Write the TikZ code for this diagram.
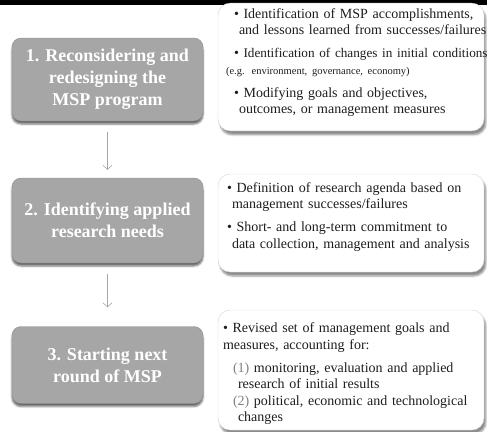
\documentclass[tikz,border=0pt]{standalone}
\usepackage{fontspec}
\setmainfont{Liberation Serif}
\usetikzlibrary{arrows.meta,shadows.blur}
\definecolor{stepgray}{RGB}{166,166,166}
\definecolor{notetext}{RGB}{30,30,30}
\begin{document}
\begin{tikzpicture}[x=1pt,y=-1pt,
    stepbox/.style={draw=stepgray!85!black, fill=stepgray, rounded corners=9pt,
                    minimum width=191pt, align=center, text=white,
                    font=\fontsize{18}{22}\selectfont\bfseries,
                    blur shadow={shadow xshift=0pt, shadow yshift=-3pt, shadow opacity=60}},
    notebox/.style={draw=gray!35, fill=white, rounded corners=12pt,
                    minimum width=266pt, align=left, text=notetext,
                    font=\fontsize{14}{16.5}\selectfont,
                    blur shadow={shadow xshift=2pt, shadow yshift=-4pt, shadow opacity=45}},
    flow/.style={draw=gray!70, line width=0.6pt, -{Straight Barb[length=4pt,width=9pt]}}]
  \useasboundingbox (0,0) rectangle (487,431);
  \fill (0,0) rectangle (487,5);
  % steps
  \node[stepbox, minimum height=83pt] (s1) at (107.5,79.5)
    {1. Reconsidering and\\redesigning the\\MSP program};
  \node[stepbox, minimum height=85pt] (s2) at (107.5,220.5)
    {2. Identifying applied\\research needs};
  \node[stepbox, minimum height=77pt] (s3) at (107.5,365)
    {3. Starting next\\round of MSP};
  % notes
  \node[notebox, minimum height=120pt, inner xsep=16pt, text width=234pt] (n1) at (351,67)
    {\begin{tabular}{@{}l@{}}
     \textbullet\ Identification of MSP accomplishments,\\
     \hspace*{5pt}and lessons learned from successes/failures\\[6.5pt]
     \textbullet\ {\fontsize{13.2}{16.5}\selectfont Identification of changes in initial conditions}\\
     \hspace*{-8pt}{\fontsize{10.5}{16.5}\selectfont (e.g. environment, governance, economy)}\\[6.5pt]
     \textbullet\ Modifying goals and objectives,\\
     \hspace*{5pt}outcomes, or management measures\\[9pt]
     \end{tabular}};
  \node[notebox, minimum height=98pt, inner xsep=9pt, text width=248pt] (n2) at (351,223)
    {\begin{tabular}{@{}l@{}}
     \textbullet\ Definition of research agenda based on\\
     \hspace*{5pt}management successes/failures\\[6.5pt]
     \textbullet\ Short- and long-term commitment to\\
     \hspace*{5pt}data collection, management and analysis\\[12pt]
     \end{tabular}};
  \node[notebox, minimum height=120pt, inner xsep=5pt, text width=256pt] (n3) at (351,370)
    {\begin{tabular}{@{}l@{}}
     \\[-9pt]
     \textbullet\ Revised set of management goals and\\
     measures, accounting for:\\[6.5pt]
     \hspace*{10pt}{\color{gray}(1)} monitoring, evaluation and applied\\
     \hspace*{15pt}research of initial results\\
     \hspace*{10pt}{\color{gray}(2)} political, economic and technological\\
     \hspace*{15pt}changes
     \end{tabular}};
  \foreach \a/\b/\g in {s1/s2/8, s2/s3/19}
    \draw[flow, shorten <=11pt, shorten >=\g pt] (\a) -- (\b);
\end{tikzpicture}
\end{document}
